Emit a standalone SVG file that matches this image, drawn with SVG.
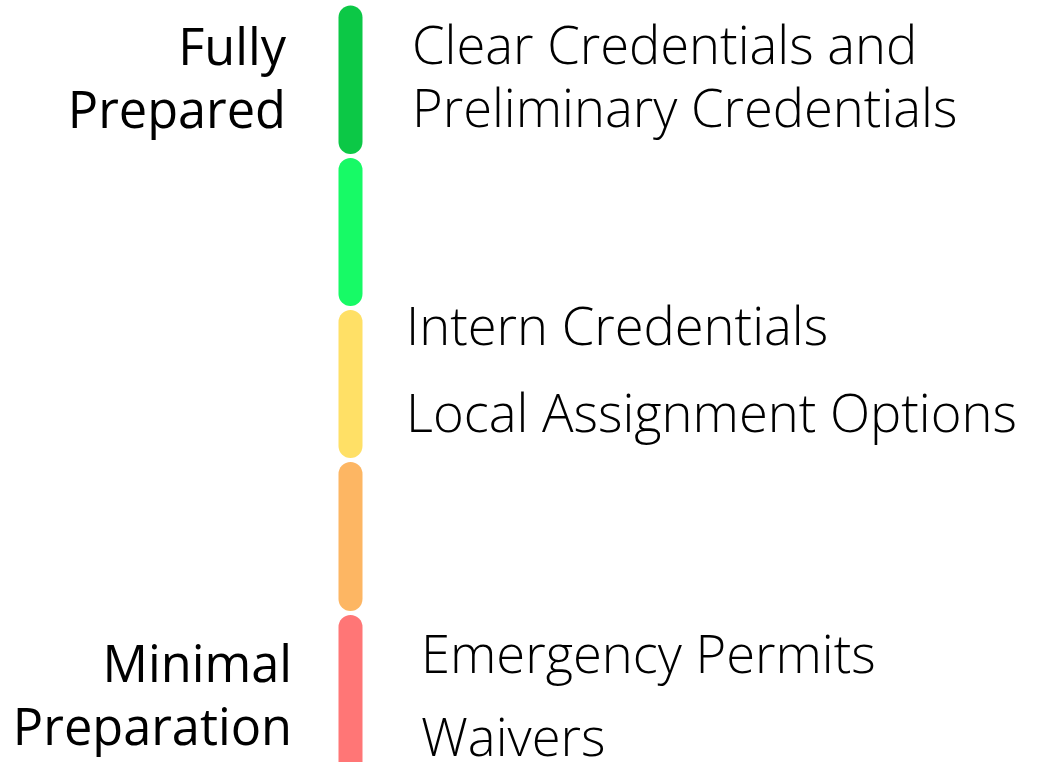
<svg xmlns="http://www.w3.org/2000/svg" width="1042" height="762" viewBox="0 0 1042 762">
<style>
.l{font-family:"Open Sans","Noto Sans",sans-serif;font-weight:400;font-size:50.5px;fill:#000;text-anchor:end}
.r{font-family:"Open Sans","Noto Sans",sans-serif;font-weight:300;font-size:52.5px;fill:#000}
</style>
<rect width="1042" height="762" fill="#fff"/>
<g id="bars">
<rect id="bar1" x="338.5" y="5.5" width="24" height="148.5" rx="12" fill="#0cc846"/>
<rect id="bar2" x="338.5" y="158" width="24" height="148" rx="12" fill="#17fa66"/>
<rect id="bar3" x="338.5" y="310" width="24" height="148" rx="12" fill="#ffe066"/>
<rect id="bar4" x="338.5" y="462" width="24" height="149" rx="12" fill="#fdb663"/>
<rect id="bar5" x="338.5" y="615" width="24" height="160" rx="12" fill="#ff7676"/>
</g>
<g id="left-labels">
<text class="l" x="286" y="65">Fully</text>
<text class="l" x="286" y="128">Prepared</text>
<text class="l" x="292" y="682">Minimal</text>
<text class="l" x="292" y="745">Preparation</text>
</g>
<g id="right-labels">
<text class="r" x="412" y="64">Clear Credentials and</text>
<text class="r" x="412" y="127">Preliminary Credentials</text>
<text class="r" x="406" y="345">Intern Credentials</text>
<text class="r" x="406" y="432">Local Assignment Options</text>
<text class="r" x="421" y="673">Emergency Permits</text>
<text class="r" x="421" y="756">Waivers</text>
</g>
</svg>
